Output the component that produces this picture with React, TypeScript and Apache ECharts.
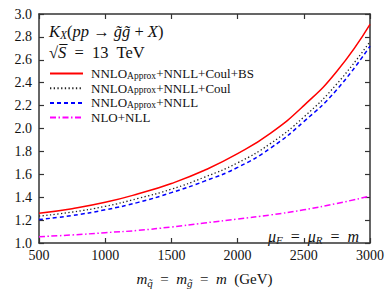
import React, { useEffect, useRef } from "react";
import * as echarts from "echarts";

const masses = [500, 750, 1000, 1250, 1500, 1750, 2000, 2250, 2500, 2750, 3000];
const kCoulBS = [1.26, 1.3, 1.355, 1.43, 1.52, 1.635, 1.78, 1.96, 2.2, 2.5, 2.91];
const kCoul = [1.235, 1.27, 1.32, 1.39, 1.47, 1.575, 1.7, 1.87, 2.1, 2.39, 2.76];
const kNNLL = [1.205, 1.24, 1.29, 1.355, 1.44, 1.54, 1.66, 1.83, 2.06, 2.34, 2.72];
const kNLO = [1.055, 1.07, 1.09, 1.11, 1.14, 1.175, 1.21, 1.245, 1.29, 1.345, 1.41];

const seriesNames = [
  "NNLO_Approx+NNLL+Coul+BS",
  "NNLO_Approx+NNLL+Coul",
  "NNLO_Approx+NNLL",
  "NLO+NLL",
];
const legendRich = [
  "{n|NNLO}{s|Approx}{n|+NNLL+Coul+BS}",
  "{n|NNLO}{s|Approx}{n|+NNLL+Coul}",
  "{n|NNLO}{s|Approx}{n|+NNLL}",
  "{n|NLO+NLL}",
];

const xMin = 500;
const xMax = 3000;
const xStep = 500;
const yMin = 1.0;
const yMax = 3.0;
const yStep = 0.2;

const FONT = "Liberation Serif";
const INK = "#111";
const FRAME = "#333";

export default function App() {
  const ref = useRef<HTMLDivElement>(null);
  useEffect(() => {
    if (!ref.current) return;
    const chart = echarts.init(ref.current, undefined, { renderer: "svg" });
    const mk = (vals: number[]) => masses.map((m, i) => [m, vals[i]]);
    const axisLineStyle = { color: FRAME, width: 1.5 };
    const tick = { show: true, inside: true, length: 5, lineStyle: { color: FRAME, width: 1.2 } };
    const option: any = {
      animation: false,
      textStyle: { fontFamily: FONT },
      grid: { left: 39, right: 20, top: 14, bottom: 43, containLabel: false },
      xAxis: [
        {
          type: "value",
          min: xMin,
          max: xMax,
          interval: xStep,
          position: "bottom",
          axisLine: { show: true, lineStyle: axisLineStyle },
          axisTick: tick,
          splitLine: { show: false },
          axisLabel: {
            color: INK,
            fontFamily: FONT,
            fontSize: 14,
            margin: 5,
            formatter: (v: number) => String(v),
          },
          name: "{i|m}{s|q\u0303}{n|  =  }{i|m}{s|g\u0303}{n|  =  }{i|m}{n|  (GeV)}",
          nameLocation: "middle",
          nameGap: 27,
          nameTextStyle: {
            rich: {
              i: { fontFamily: FONT, fontStyle: "italic", fontSize: 15, color: INK, lineHeight: 18, verticalAlign: "middle" },
              n: { fontFamily: FONT, fontSize: 15, color: INK, lineHeight: 18, verticalAlign: "middle" },
              s: { fontFamily: FONT, fontStyle: "italic", fontSize: 11, color: INK, lineHeight: 11, verticalAlign: "bottom" },
            },
          },
        },
        {
          type: "value",
          min: xMin,
          max: xMax,
          interval: xStep,
          position: "top",
          axisLine: { show: true, lineStyle: axisLineStyle },
          axisTick: tick,
          splitLine: { show: false },
          axisLabel: { show: false },
        },
      ],
      yAxis: [
        {
          type: "value",
          min: yMin,
          max: yMax,
          interval: yStep,
          position: "left",
          axisLine: { show: true, lineStyle: axisLineStyle },
          axisTick: tick,
          splitLine: { show: false },
          axisLabel: {
            color: INK,
            fontFamily: FONT,
            fontSize: 14,
            margin: 7,
            formatter: (v: number) => v.toFixed(1),
          },
        },
        {
          type: "value",
          min: yMin,
          max: yMax,
          interval: yStep,
          position: "right",
          axisLine: { show: true, lineStyle: axisLineStyle },
          axisTick: tick,
          splitLine: { show: false },
          axisLabel: { show: false },
        },
      ],
      legend: {
        orient: "vertical",
        left: 49,
        top: 67,
        padding: 0,
        itemWidth: 33,
        itemHeight: 8,
        itemGap: 1.2,
        data: seriesNames,
        itemStyle: { opacity: 0 },
        formatter: (name: string) => legendRich[seriesNames.indexOf(name)],
        textStyle: {
          padding: [0, 0, 0, 3],
          rich: {
            n: { fontFamily: FONT, fontSize: 13, color: INK, lineHeight: 14, verticalAlign: "middle" },
            s: { fontFamily: FONT, fontSize: 9.5, color: INK, lineHeight: 9, verticalAlign: "bottom" },
          },
        },
        selectedMode: false,
      },
      graphic: [
        {
          type: "text",
          left: 49,
          top: 22.5,
          style: {
            text: "{i|K}{s|X}{n|(}{i|pp }{n|\u2192 }{i|g\u0303g\u0303}{n| + }{i|X}{n|)}",
            rich: {
              i: { fontFamily: FONT, fontStyle: "italic", fontSize: 16.5, fill: INK, lineHeight: 19, verticalAlign: "middle" },
              n: { fontFamily: FONT, fontSize: 16.5, fill: INK, lineHeight: 19, verticalAlign: "middle" },
              s: { fontFamily: FONT, fontStyle: "italic", fontSize: 11.5, fill: INK, lineHeight: 11, verticalAlign: "bottom" },
            },
          },
        },
        {
          type: "text",
          left: 49,
          top: 43.5,
          style: {
            text: "{n|\u221A}{i|S\u0305}{n|  =  13  TeV}",
            rich: {
              i: { fontFamily: FONT, fontStyle: "italic", fontSize: 16.5, fill: INK, lineHeight: 19, verticalAlign: "middle" },
              n: { fontFamily: FONT, fontSize: 16.5, fill: INK, lineHeight: 19, verticalAlign: "middle" },
            },
          },
        },
        {
          type: "text",
          right: 31,
          top: 228.5,
          style: {
            text: "{i|\u03BC}{s|F}{n|  =  }{i|\u03BC}{s|R}{n|  =  }{i|m}",
            rich: {
              i: { fontFamily: FONT, fontStyle: "italic", fontSize: 16, fill: INK, lineHeight: 18, verticalAlign: "middle" },
              n: { fontFamily: FONT, fontSize: 16, fill: INK, lineHeight: 18, verticalAlign: "middle" },
              s: { fontFamily: FONT, fontStyle: "italic", fontSize: 11, fill: INK, lineHeight: 10, verticalAlign: "bottom" },
            },
          },
        },
      ],
      series: [
        {
          name: seriesNames[0],
          type: "line",
          data: mk(kCoulBS),
          smooth: true,
          symbol: "none",
          lineStyle: { color: "#ff0000", width: 1.5, type: "solid" },
          itemStyle: { color: "#ff0000" },
          z: 4,
        },
        {
          name: seriesNames[1],
          type: "line",
          data: mk(kCoul),
          smooth: true,
          symbol: "none",
          lineStyle: { color: "#222", width: 1.3, type: [1.3, 2.4] },
          itemStyle: { color: "#222" },
          z: 3,
        },
        {
          name: seriesNames[2],
          type: "line",
          data: mk(kNNLL),
          smooth: true,
          symbol: "none",
          lineStyle: { color: "#0000ff", width: 1.5, type: [4, 3] },
          itemStyle: { color: "#0000ff" },
          z: 2,
        },
        {
          name: seriesNames[3],
          type: "line",
          data: mk(kNLO),
          smooth: true,
          symbol: "none",
          lineStyle: { color: "#ff00ff", width: 1.5, type: [6, 2.5, 1.5, 2.5] },
          itemStyle: { color: "#ff00ff" },
          z: 1,
        },
      ],
    };
    chart.setOption(option);
    return () => chart.dispose();
  }, []);
  return (
    <div
      ref={ref}
      style={{ position: "fixed", left: 0, top: 0, width: 390, height: 293, background: "#fff" }}
    />
  );
}
